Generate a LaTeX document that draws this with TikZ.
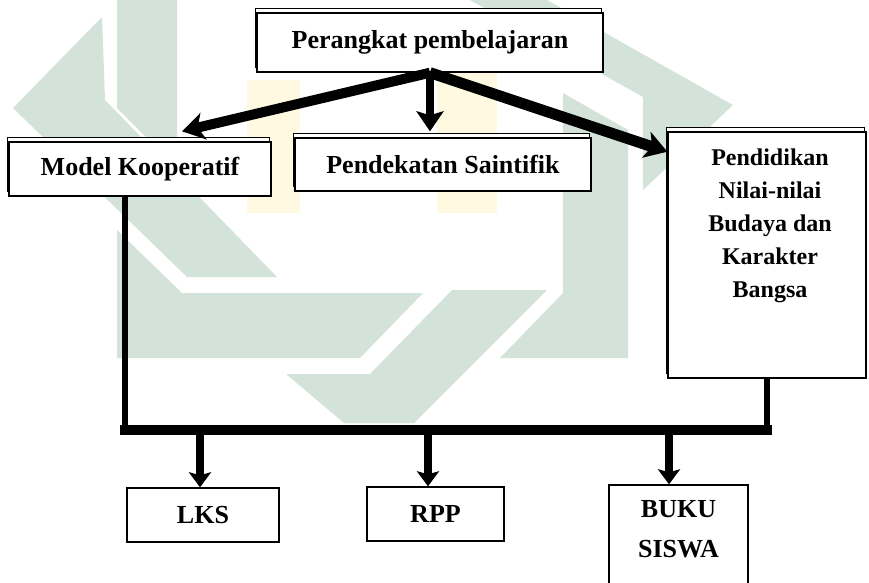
\documentclass[tikz,border=0pt]{standalone}
\usepackage{fontspec}
\setmainfont{Liberation Serif}
\usetikzlibrary{arrows.meta,shadows,calc}
\definecolor{wmgreen}{RGB}{211,227,217}
\definecolor{wmyellow}{RGB}{254,249,224}

\begin{document}
\begin{tikzpicture}[x=1pt,y=-1pt,
  box/.style={draw=black,line width=1.4pt,fill=white,inner sep=0pt,
    font=\bfseries\fontsize{26}{33}\selectfont,
    copy shadow={shadow xshift=-1.5pt,shadow yshift=4.5pt}},
  plainbox/.style={draw=black,line width=1.4pt,fill=white,inner sep=0pt,
    font=\bfseries\fontsize{26}{33}\selectfont},
  boxtext/.style={align=center,inner sep=0pt},
  bigarrow/.style={line width=10pt,-{Stealth[length=22pt,width=27pt,inset=6pt]}},
  midarrow/.style={line width=8pt,-{Stealth[length=20pt,width=27pt,inset=4pt]}},
  smallarrow/.style={line width=8pt,-{Stealth[length=15pt,width=22pt,inset=3pt]}},
  link/.style={line width=6pt}]
\useasboundingbox (0,0) rectangle (869,582);
\fill[wmgreen] (102,17) -- (13,108) -- (187,277) -- (277,277) -- (105,100) -- cycle;
\fill[wmgreen] (117,0) -- (177,0) -- (177,168) -- (117,108) -- cycle;
\fill[wmgreen] (117,230) -- (117,358) -- (360,358) -- (423,293) -- (182,293) -- cycle;
\fill[wmgreen] (286,374) -- (344,423) -- (414,423) -- (547,290) -- (452,290) -- (370,374) -- cycle;
\fill[wmgreen] (563,93) -- (628,130) -- (628,358) -- (500,358) -- (563,293) -- cycle;
\fill[wmgreen] (470,0) -- (547,0) -- (733,105) -- (643,190) -- (643,97) -- cycle;
\fill[wmyellow] (247,80) rectangle (300,213);
\fill[wmyellow] (437,67) rectangle (497,213);
\node[box,minimum width=346pt,minimum height=59pt] (perangkat) at (430,42.5) {Perangkat pembelajaran};
\node[box,minimum width=262pt,minimum height=54pt] (model) at (140,169) {Model Kooperatif};
\node[box,minimum width=296pt,minimum height=53pt] (saintifik) at (443,164.5) {Pendekatan Saintifik};
\node[box,minimum width=198pt,minimum height=246pt] (pendidikan) at (767,255) {};
\node[boxtext,font=\bfseries\fontsize{24}{33}\selectfont] (pendidikanteks) at (770,226) {Pendidikan\\Nilai-nilai\\Budaya dan\\Karakter\\Bangsa};
\node[plainbox,minimum width=152pt,minimum height=54pt] (lks) at (203,515) {LKS};
\node[plainbox,minimum width=137pt,minimum height=54pt] (rpp) at (435.5,514) {RPP};
\node[plainbox,minimum width=139pt,minimum height=104pt] (buku) at (678.5,537) {};
\node[boxtext,font=\bfseries\fontsize{26}{40}\selectfont] (bukuteks) at (678.5,529) {BUKU\\SISWA};
\draw[bigarrow] (perangkat.south) -- ($(model.north)+(42,-10)$);
\draw[midarrow,shorten >=6pt] (perangkat.south) -- (perangkat.south |- saintifik.north);
\draw[bigarrow,line width=11pt] (perangkat.south) -- (pendidikan.134);
\coordinate (busL) at (125,430);
\coordinate (busR) at (767,430);
\draw[link] (busL |- model.south) -- (busL);
\draw[link] (pendidikan.south) -- (busR);
\draw[line width=10pt,line cap=rect] (busL) -- (busR);
\coordinate (tapLKS) at (200,435);
\coordinate (tapRPP) at (428,435);
\coordinate (tapBUKU) at (669,435);
\draw[smallarrow] (tapLKS) -- (tapLKS |- lks.north);
\draw[smallarrow] (tapRPP) -- (tapRPP |- rpp.north);
\draw[smallarrow] (tapBUKU) -- (tapBUKU |- buku.north);
\end{tikzpicture}
\end{document}
